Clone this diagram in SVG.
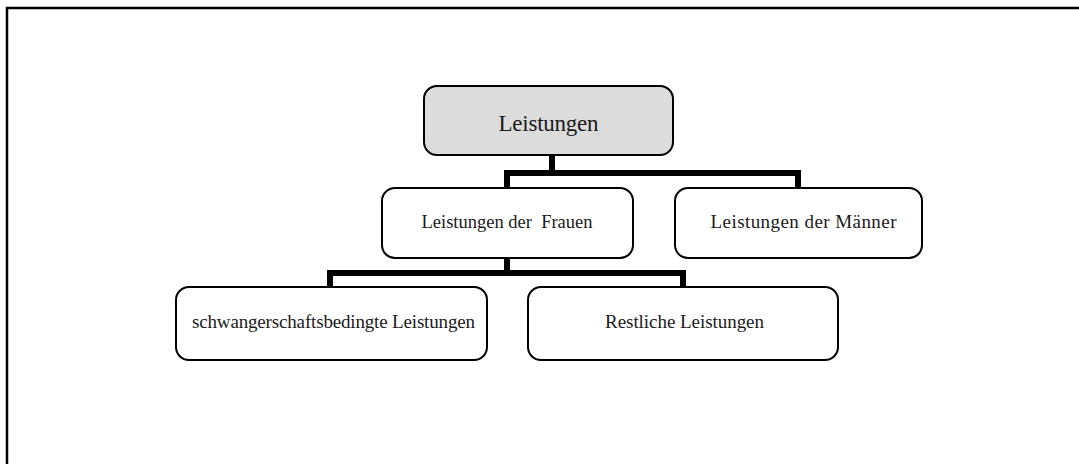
<svg xmlns="http://www.w3.org/2000/svg" width="1079" height="464" viewBox="0 0 1079 464">
<style>
.box{fill:#fff;stroke:#000;stroke-width:2}
.root{fill:#dcdcdc;stroke:#000;stroke-width:2}
.lbl{font-family:"Liberation Serif","Times New Roman",serif;fill:#1a1a1a;text-anchor:middle}
.conn{fill:none;stroke:#000;stroke-width:6;stroke-linejoin:miter}
</style>
<rect width="1079" height="464" fill="#fff"/>
<path d="M7 470 V8 H1090" fill="none" stroke="#000" stroke-width="2.5"/>
<g id="connectors">
<path class="conn" d="M552 155 V173 H507 V188"/>
<path class="conn" d="M549 173 H798 V188"/>
<path class="conn" d="M507 258 V273 H330 V287"/>
<path class="conn" d="M504 273 H683 V287"/>
</g>
<g id="n-root">
<rect class="root" x="424" y="86" width="249" height="69" rx="13"/>
<text class="lbl" x="548.5" y="131" font-size="23" textLength="100">Leistungen</text>
</g>
<g id="n-frauen">
<rect class="box" x="382" y="188" width="251" height="70" rx="13"/>
<text class="lbl" x="507" y="228" font-size="18.5" textLength="171" xml:space="preserve">Leistungen der  Frauen</text>
</g>
<g id="n-maenner">
<rect class="box" x="675" y="188" width="247" height="70" rx="13"/>
<text class="lbl" x="803.5" y="228" font-size="19" textLength="186">Leistungen der Männer</text>
</g>
<g id="n-schwanger">
<rect class="box" x="176" y="287" width="311" height="73" rx="13"/>
<text class="lbl" x="333.5" y="328" font-size="19" textLength="283">schwangerschaftsbedingte Leistungen</text>
</g>
<g id="n-restliche">
<rect class="box" x="528" y="287" width="310" height="73" rx="13"/>
<text class="lbl" x="684.5" y="328" font-size="19" textLength="159">Restliche Leistungen</text>
</g>
</svg>
